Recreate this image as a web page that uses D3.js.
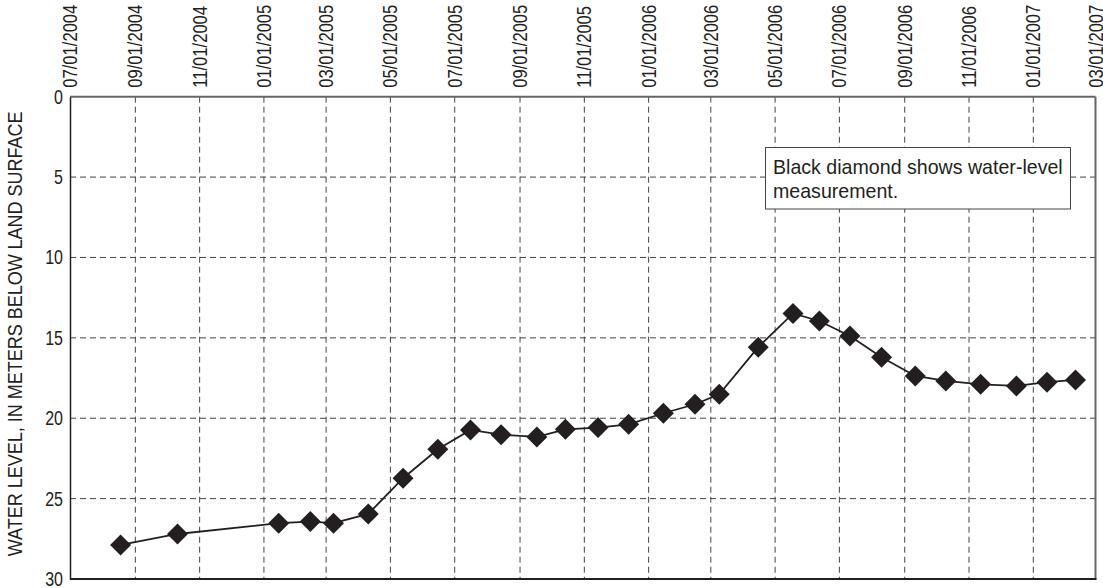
<!DOCTYPE html>
<html><head><meta charset="utf-8">
<script src="https://cdn.jsdelivr.net/npm/d3@7"></script>
<style>
html,body{margin:0;padding:0;background:#fff;}
text{font-family:"Liberation Sans Narrow","Arial Narrow","Liberation Sans",Arial,sans-serif;fill:#231f20;}
</style></head>
<body><svg id="c" width="1103" height="588"></svg>
<script>
const dates = ["2004-08-18","2004-10-11","2005-01-15","2005-02-14","2005-03-08","2005-04-10","2005-05-13","2005-06-15","2005-07-16","2005-08-14","2005-09-17","2005-10-14","2005-11-14","2005-12-13","2006-01-15","2006-02-14","2006-03-09","2006-04-15","2006-05-18","2006-06-12","2006-07-11","2006-08-10","2006-09-11","2006-10-10","2006-11-12","2006-12-16","2007-01-14","2007-02-10"];
const levels = [27.88,27.2,26.53,26.43,26.53,25.95,23.73,21.93,20.73,21.02,21.16,20.69,20.58,20.38,19.69,19.13,18.51,15.58,13.48,13.95,14.88,16.21,17.37,17.68,17.89,17.99,17.76,17.62];
const xTickLabels = ["07/01/2004","09/01/2004","11/01/2004","01/01/2005","03/01/2005","05/01/2005","07/01/2005","09/01/2005","11/01/2005","01/01/2006","03/01/2006","05/01/2006","07/01/2006","09/01/2006","11/01/2006","01/01/2007","03/01/2007"];
const yTicks = [0,5,10,15,20,25,30];
const yTitle = "WATER LEVEL, IN METERS BELOW LAND SURFACE";
const noteLines = ["Black diamond shows water-level","measurement."];

const parse = d3.timeParse("%Y-%m-%d");
const parseTick = d3.timeParse("%m/%d/%Y");
const data = dates.map((d,i)=>({date:parse(d), v:levels[i]}));
const tickDates = xTickLabels.map(parseTick);

const L=70, R=1095.5, T=96.7, B=579;
const svg = d3.select("#c");
const x = d3.scaleTime().domain([tickDates[0], tickDates[tickDates.length-1]]).range([L,R]);
const y = d3.scaleLinear().domain([0,30]).range([T,B]);

// grid
const g = svg.append("g");
g.selectAll(".vg").data(tickDates.slice(1,-1)).join("line")
  .attr("x1",d=>x(d)).attr("x2",d=>x(d)).attr("y1",T).attr("y2",B)
  .attr("stroke","#444").attr("stroke-width",1).attr("stroke-dasharray","6,4");
g.selectAll(".hg").data(yTicks.slice(1,-1)).join("line")
  .attr("x1",L).attr("x2",R).attr("y1",d=>y(d)).attr("y2",d=>y(d))
  .attr("stroke","#444").attr("stroke-width",1).attr("stroke-dasharray","6,4");

// frame
svg.append("line").attr("x1",L).attr("x2",R).attr("y1",T).attr("y2",T).attr("stroke","#666").attr("stroke-width",2);
svg.append("line").attr("x1",R).attr("x2",R).attr("y1",T).attr("y2",B).attr("stroke","#666").attr("stroke-width",2);

// y axis
const yAxis = d3.axisLeft(y).tickValues(yTicks).tickSize(0).tickPadding(0);
const ya = svg.append("g").attr("transform",`translate(${L},0)`).call(yAxis);
ya.select(".domain").attr("stroke","#231f20").attr("stroke-width",1.5);
ya.selectAll(".tick text").attr("font-size",20).attr("fill","#231f20")
  .attr("x",null).attr("dy",null)
  .attr("transform","translate(-7,6.5) scale(0.8,1)");

// x axis
const xAxis = d3.axisTop(x).tickValues(tickDates).tickSize(0).tickFormat((d,i)=>xTickLabels[i]);
const xa = svg.append("g").attr("transform",`translate(0,${T})`).call(xAxis);
xa.select(".domain").remove();
xa.selectAll(".tick text").attr("font-size",20).attr("fill","#231f20")
  .attr("text-anchor","start").attr("x",null).attr("y",null).attr("dy",null)
  .attr("transform","translate(6.5,-9) rotate(-90) scale(0.83,1)");

svg.append("line").attr("x1",L).attr("x2",R+1).attr("y1",B).attr("y2",B).attr("stroke","#231f20").attr("stroke-width",2);

// y title
svg.append("text").attr("transform",`translate(22,${(T+B)/2-4}) rotate(-90) scale(0.9,1)`).attr("text-anchor","middle")
  .attr("font-size",20).text(yTitle);

// line
svg.append("path").datum(data).attr("fill","none").attr("stroke","#231f20").attr("stroke-width",1.8)
  .attr("d",d3.line().x(d=>x(d.date)).y(d=>y(d.v)));
const r = 10.5;
svg.selectAll(".pt").data(data).join("path")
  .attr("d",d=>{const cx=x(d.date), cy=y(d.v); return `M${cx},${cy-r}L${cx+r},${cy}L${cx},${cy+r}L${cx-r},${cy}Z`;})
  .attr("fill","#231f20");

// note box
svg.append("rect").attr("x",765.5).attr("y",147.5).attr("width",305).attr("height",61.5)
  .attr("fill","#fff").attr("stroke","#444").attr("stroke-width",1);
svg.append("text").attr("transform","translate(773,174) scale(0.98,1)").attr("font-size",20)
  .selectAll("tspan").data(noteLines).join("tspan").attr("x",0).attr("dy",(d,i)=>i?24:0).text(d=>d);
</script></body></html>
